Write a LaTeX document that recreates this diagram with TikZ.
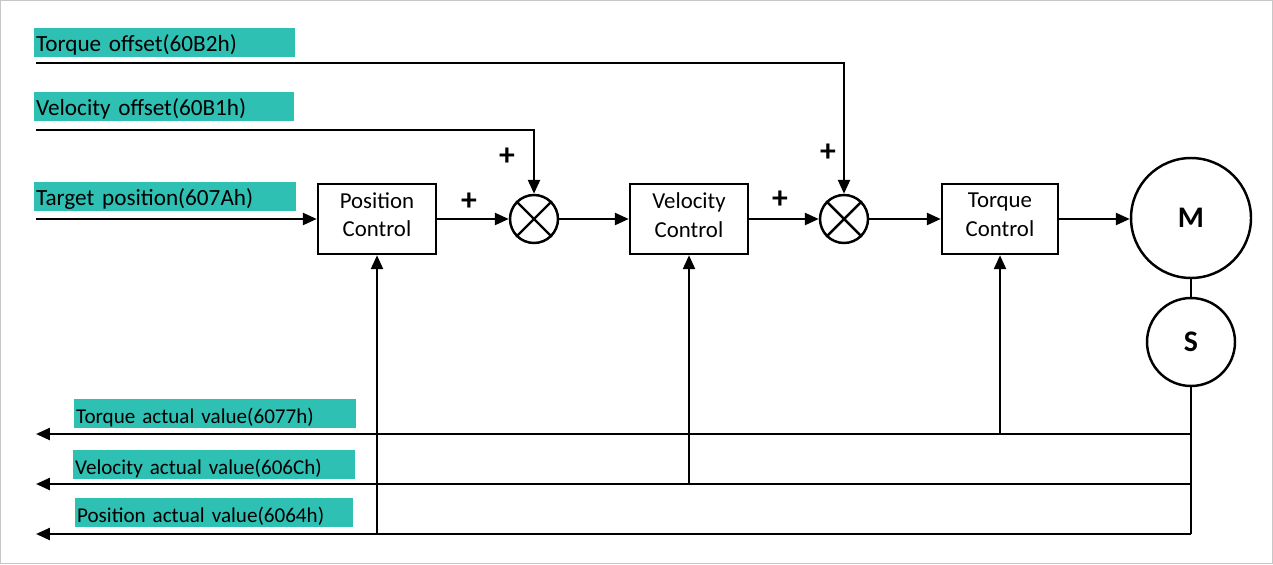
\documentclass[tikz,border=0pt]{standalone}
\usepackage{fontspec}
\setmainfont{Carlito}
\usetikzlibrary{arrows.meta}
\definecolor{labc}{RGB}{47,192,180}
\newcommand{\upstrut}{\rule{0pt}{12.4pt}}
\newcommand{\dnstrut}{\rule[-5pt]{0pt}{5pt}}
\begin{document}
\begin{tikzpicture}[x=0.02cm,y=-0.02cm,
  line/.style={line width=1.4pt},
  arr/.style={line width=1.4pt, -{Triangle[length=0.28cm,width=0.24cm]}},
  blk/.style={draw, line width=1.4pt, minimum width=2.36cm, minimum height=1.4cm, align=center, font=\fontsize{13}{16.5}\selectfont, inner sep=0pt},
  sumc/.style={draw, circle, line width=1.4pt, minimum size=0.96cm, inner sep=0pt},
  motor/.style={draw, circle, line width=1.4pt, inner sep=0pt, font=\fontsize{17}{20}\selectfont\bfseries},
  lab/.style={fill=labc, anchor=north west, inner xsep=1pt, inner ysep=0pt, minimum height=0.58cm, align=left, font=\fontsize{13.2}{15}\selectfont},
  labb/.style={lab, font=\fontsize{12}{15}\selectfont},
  plus/.style={font=\fontsize{18}{20}\selectfont\bfseries, inner sep=0pt}
]
\useasboundingbox (0,0) rectangle (1273,564);
\draw[black!22, line width=0.8pt] (0.5,0.5) rectangle (1272.5,563.5);

% labels
\node[lab, text width=5.22cm-2pt] (l1) at (34,28) {\upstrut Torque offset(60B2h)};
\node[lab, text width=5.20cm-2pt] (l2) at (34,92) {\upstrut Velocity offset(60B1h)};
\node[lab, text width=5.24cm-2pt] (l3) at (34,182) {\upstrut Target position(607Ah)};
\node[labb, text width=5.64cm-2pt] (l4) at (74,399) {\upstrut Torque actual value(6077h)};
\node[labb, text width=5.64cm-2pt] (l5) at (73,450) {\upstrut Velocity actual value(606Ch)};
\node[labb, text width=5.56cm-2pt] (l6) at (75,498) {\upstrut Position actual value(6064h)};

% blocks
\node[blk] (pc) at (377,219) {Position\\Control\dnstrut};
\node[blk] (vc) at (689,219) {Velocity\\Control\dnstrut};
\node[blk, minimum width=2.32cm] (tc) at (1000,219) {Torque\\Control\dnstrut};
\node[sumc] (s1) at (534,219) {};
\node[sumc] (s2) at (844,219) {};
\draw[line] (s1.north west) -- (s1.south east) (s1.north east) -- (s1.south west);
\draw[line] (s2.north west) -- (s2.south east) (s2.north east) -- (s2.south west);
\node[motor, minimum size=2.4cm] (m) at (1191,218) {M};
\node[motor, minimum size=1.76cm] (s) at (1191,342) {S};

% plus signs
\node[plus] (p1) at (469,202) {+};
\node[plus] (p2) at (507,157) {+};
\node[plus] (p3) at (780,200) {+};
\node[plus] (p4) at (828,153) {+};

% inputs
\coordinate (tqo) at (36,63);
\coordinate (vo) at (36,130);
\coordinate (tp) at (36,219);
\draw[arr] (tqo) -| (s2.north);
\draw[arr] (vo) -| (s1.north);
\draw[arr] (tp) -- (pc.west);
\draw[arr] (pc.east) -- (s1.west);
\draw[arr] (s1.east) -- (vc.west);
\draw[arr] (vc.east) -- (s2.west);
\draw[arr] (s2.east) -- (tc.west);
\draw[arr] (tc.east) -- (tc.east -| m.west);
\draw[line] (m.south) -- (s.north);

% feedback
\coordinate (ct) at (1191,434);
\coordinate (cv) at (1191,484);
\coordinate (cp) at (1191,534);
\coordinate (et) at (36,434);
\coordinate (ev) at (36,484);
\coordinate (ep) at (36,534);
\draw[line] (s.south) -- (cp);
\draw[arr] (ct) -- (et);
\draw[arr] (cv) -- (ev);
\draw[arr] (cp) -- (ep);
\draw[arr] (tc.south |- ct) -- (tc.south);
\draw[arr] (vc.south |- cv) -- (vc.south);
\draw[arr] (pc.south |- cp) -- (pc.south);
\end{tikzpicture}
\end{document}
